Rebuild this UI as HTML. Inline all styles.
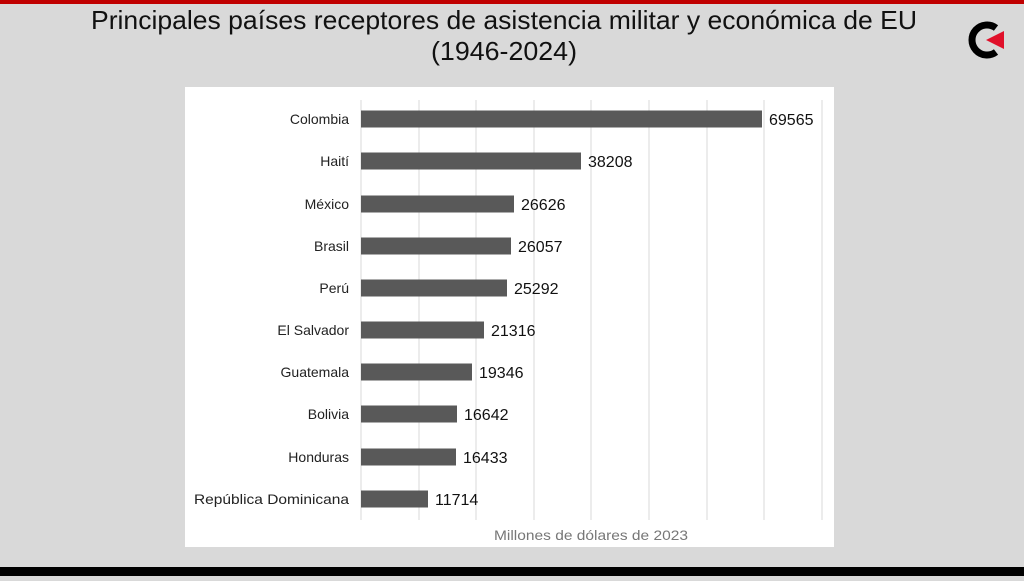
<!DOCTYPE html>
<html><head><meta charset="utf-8"><style>
body{margin:0;width:1024px;height:576px;overflow:hidden;background:#d9d9d9;font-family:"Liberation Sans",sans-serif}
</style></head><body>
<svg width="1024" height="576" xmlns="http://www.w3.org/2000/svg" font-family="Liberation Sans, sans-serif">
<rect width="1024" height="576" fill="#d9d9d9"/>
<rect width="1024" height="4" fill="#c00000"/>
<rect y="567" width="1024" height="9" fill="#000"/>
<text x="504" y="29" font-size="26" text-anchor="middle" textLength="826" lengthAdjust="spacingAndGlyphs" fill="#111">Principales países receptores de asistencia militar y económica de EU</text>
<text x="504" y="60" font-size="26" text-anchor="middle" textLength="146" lengthAdjust="spacingAndGlyphs" fill="#111">(1946-2024)</text>
<path d="M996 28 A15 15 0 1 0 996 52" fill="none" stroke="#000" stroke-width="7"/>
<polygon points="986,40 1004,31 1004,49" fill="#e0102a"/>
<rect x="185" y="87" width="649" height="460" fill="#fff"/>
<g stroke="#d9d9d9" stroke-width="1">
<line x1="361" y1="100" x2="361" y2="520"/><line x1="419" y1="100" x2="419" y2="520"/><line x1="476" y1="100" x2="476" y2="520"/><line x1="534" y1="100" x2="534" y2="520"/><line x1="591" y1="100" x2="591" y2="520"/><line x1="649" y1="100" x2="649" y2="520"/><line x1="707" y1="100" x2="707" y2="520"/><line x1="764" y1="100" x2="764" y2="520"/><line x1="822" y1="100" x2="822" y2="520"/>
</g>
<g fill="#595959">
<rect x="361" y="110.5" width="401" height="17"/>
<rect x="361" y="152.5" width="220" height="17"/>
<rect x="361" y="195.5" width="153" height="17"/>
<rect x="361" y="237.5" width="150" height="17"/>
<rect x="361" y="279.5" width="146" height="17"/>
<rect x="361" y="321.5" width="123" height="17"/>
<rect x="361" y="363.5" width="111" height="17"/>
<rect x="361" y="405.5" width="96" height="17"/>
<rect x="361" y="448.5" width="95" height="17"/>
<rect x="361" y="490.5" width="67" height="17"/>
</g>
<g font-size="14" fill="#222" text-anchor="end">
<text x="349" y="124">Colombia</text><text x="349" y="166">Haití</text><text x="349" y="209">México</text><text x="349" y="251">Brasil</text><text x="349" y="293">Perú</text><text x="349" y="335">El Salvador</text><text x="349" y="377">Guatemala</text><text x="349" y="419">Bolivia</text><text x="349" y="462">Honduras</text><text x="349" y="504" textLength="155" lengthAdjust="spacingAndGlyphs">República Dominicana</text>
</g>
<g font-size="16" fill="#111">
<text x="769" y="125">69565</text><text x="588" y="167">38208</text><text x="521" y="210">26626</text><text x="518" y="252">26057</text><text x="514" y="294">25292</text><text x="491" y="336">21316</text><text x="479" y="378">19346</text><text x="464" y="420">16642</text><text x="463" y="463">16433</text><text x="435" y="505">11714</text>
</g>
<text x="591" y="540" font-size="14" fill="#777" text-anchor="middle" textLength="194" lengthAdjust="spacingAndGlyphs">Millones de dólares de 2023</text>
</svg>
</body></html>
